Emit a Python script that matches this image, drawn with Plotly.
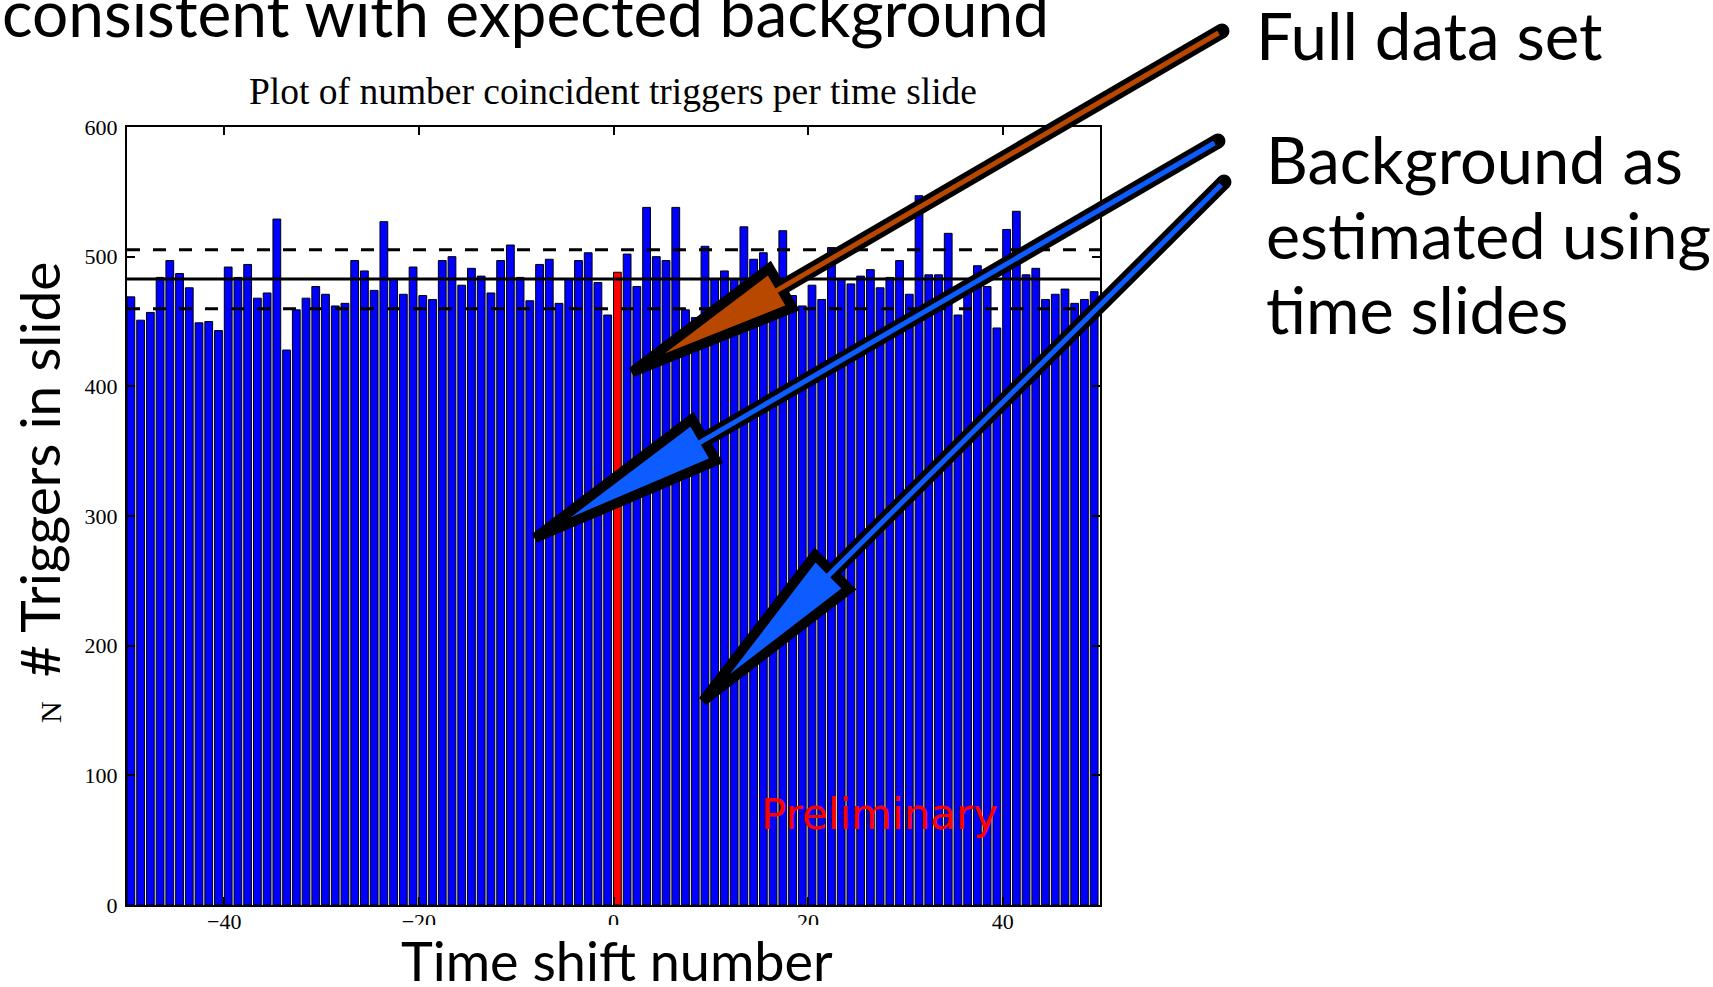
import plotly.graph_objects as go

# ---- data -------------------------------------------------------------
slide_shifts = [s for s in range(-50, 50) if s != 0]
slide_counts = [
    469, 451, 457, 484, 497, 487, 476, 449, 450, 443,   # -50 .. -41
    492, 484, 494, 468, 472, 529, 428, 459, 468, 477,   # -40 .. -31
    471, 462, 464, 497, 489, 474, 527, 483, 471, 492,   # -30 .. -21
    470, 467, 497, 500, 478, 491, 485, 472, 497, 509,   # -20 .. -11
    484, 466, 494, 498, 464, 483, 497, 503, 480, 455,   # -10 .. -1
    502, 477, 538, 500, 497, 538, 459, 453, 508,        #   1 ..  9
    483, 489, 483, 523, 498, 503, 486, 520, 470, 462,   #  10 .. 19
    478, 467, 507, 482, 479, 485, 490, 476, 484, 497,   #  20 .. 29
    471, 547, 486, 486, 518, 455, 476, 493, 477, 445,   #  30 .. 39
    521, 535, 486, 491, 467, 471, 475, 464, 467, 473,   #  40 .. 49
]
zero_shift = [0]
zero_count = [488]

bg_mean = 482.7
bg_upper = 505.4
bg_lower = 459.8

x_range = [-50, 50]
y_range = [0, 600]
x_ticks = [-40, -20, 0, 20, 40]
x_tick_text = ["\u221240", "\u221220", "0", "20", "40"]
y_ticks = [0, 100, 200, 300, 400, 500, 600]

# ---- page geometry (pixels) --------------------------------------------
W, H = 1713, 987
L, R, T, B = 127, 613, 127, 82
PW, PH = W - L - R, H - T - B


def px(x):
    return (x - L) / PW


def py(y):
    return (T + PH - y) / PH


fig = go.Figure()

fig.add_trace(go.Bar(
    x=slide_shifts, y=slide_counts, width=0.8, offset=0,
    marker=dict(color="#0000ff", line=dict(color="black", width=1)),
))
fig.add_trace(go.Bar(
    x=zero_shift, y=zero_count, width=0.8, offset=0,
    marker=dict(color="#ff0000", line=dict(color="black", width=1)),
))

for level, dash in [(bg_mean, "solid"), (bg_upper, "13px,13px"), (bg_lower, "13px,13px")]:
    fig.add_trace(go.Scatter(
        x=x_range, y=[level, level], mode="lines",
        line=dict(color="black", width=3, dash=dash),
    ))

axis_common = dict(
    showline=True, linecolor="black", linewidth=2, mirror="ticks",
    ticks="inside", ticklen=8, tickwidth=1.5, tickcolor="black",
    showgrid=False, zeroline=False,
    tickfont=dict(family="Liberation Serif", size=22, color="black"),
)
fig.update_xaxes(range=x_range, tickvals=x_ticks, ticktext=x_tick_text, **axis_common)
fig.update_yaxes(range=y_range, tickvals=y_ticks, **axis_common)
try:
    fig.update_xaxes(ticklabelstandoff=-4)
    fig.update_yaxes(ticklabelstandoff=3)
except ValueError:
    pass

# ---- arrows -----------------------------------------------------------
shapes = []


def add_arrow(tail, base, tip, half, color):
    tx, ty = tail
    bx, by = base
    ux, uy = tx - bx, ty - by
    n = (ux ** 2 + uy ** 2) ** 0.5
    ux, uy = ux / n, uy / n
    nx, ny = -uy, ux
    c1 = (bx + nx * half, by + ny * half)
    c2 = (bx - nx * half, by - ny * half)
    # black shaft with rounded tail
    shapes.append(dict(type="line", xref="paper", yref="paper", layer="above",
                       x0=px(tx), y0=py(ty), x1=px(bx), y1=py(by),
                       line=dict(color="black", width=15)))
    shapes.append(dict(type="circle", xref="paper", yref="paper", layer="above",
                       x0=px(tx - 7.5), x1=px(tx + 7.5), y0=py(ty + 7.5), y1=py(ty - 7.5),
                       fillcolor="black", line=dict(width=0)))
    # head
    path = "M {} {} L {} {} L {} {} Z".format(
        px(tip[0]), py(tip[1]), px(c1[0]), py(c1[1]), px(c2[0]), py(c2[1]))
    shapes.append(dict(type="path", xref="paper", yref="paper", layer="above",
                       path=path, fillcolor=color,
                       line=dict(color="black", width=10)))
    # coloured core of the shaft
    sx, sy = tx - ux * 4, ty - uy * 4
    ex, ey = bx - ux * 14, by - uy * 14
    shapes.append(dict(type="line", xref="paper", yref="paper", layer="above",
                       x0=px(sx), y0=py(sy), x1=px(ex), y1=py(ey),
                       line=dict(color=color, width=5)))


# white box behind the x-axis caption
shapes.append(dict(type="rect", xref="paper", yref="paper", layer="above",
                   x0=px(395), x1=px(845), y0=py(925), y1=py(H + 5),
                   fillcolor="white", line=dict(width=0)))

add_arrow((1222, 31), (781, 288), (632, 372), 23, "#b84800")
add_arrow((1218, 141), (704, 440), (535, 538), 24, "#0c5cff")
add_arrow((1224, 182), (832, 572), (703, 701), 24, "#0c5cff")

# ---- text -------------------------------------------------------------
SANS = "Lato"
annotations = []


def text(s, x, y, size, family=SANS, color="black", xanchor="left", angle=0, **kw):
    annotations.append(dict(
        text=s, x=px(x), y=py(y), xref="paper", yref="paper",
        xanchor=xanchor, yanchor="middle", showarrow=False, textangle=angle,
        font=dict(family=family, size=size, color=color), **kw))


text("N", 50, 712, 30, family="Liberation Serif", xanchor="center", angle=-90)
text("consistent with expected background", 0, 12, 64)
text("Plot of number coincident triggers per time slide", 613, 91, 37.5,
     family="Liberation Serif", xanchor="center")
text("Full data set", 1254, 35, 65.5)
text("Background as", 1264, 159, 65)
text("estimated using", 1264, 234, 64.5)
text("time slides", 1264, 309, 65)
text("Time shift number", 617, 960, 54, xanchor="center")
text("# Triggers in slide", 39, 470, 55, xanchor="center", angle=-90,
     bgcolor="white", borderpad=4)
text("Preliminary", 879, 814, 42, family="DejaVu Sans", color="#ff0000", xanchor="center")

fig.update_layout(
    width=W, height=H,
    margin=dict(l=L, r=R, t=T, b=B),
    paper_bgcolor="white", plot_bgcolor="white",
    showlegend=False, barmode="overlay",
    shapes=shapes, annotations=annotations,
)

fig.write_html("out.html")
